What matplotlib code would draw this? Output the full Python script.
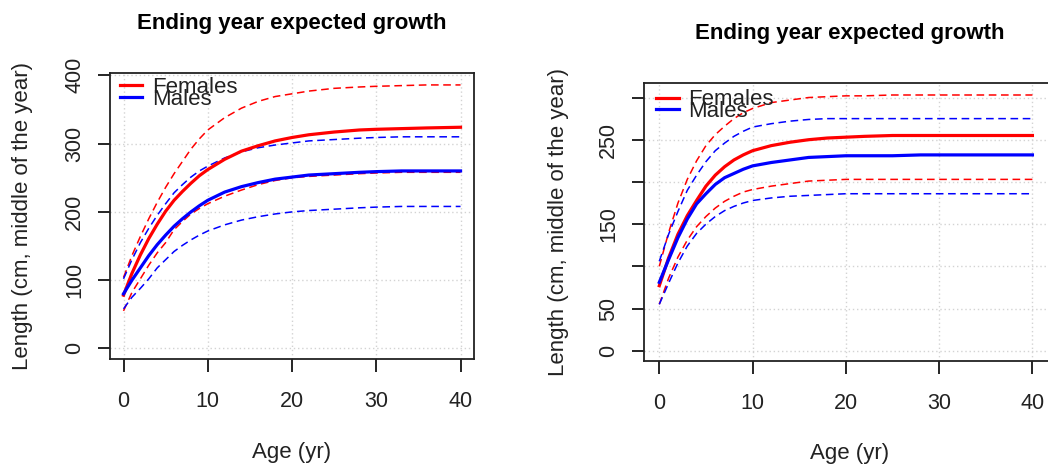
import matplotlib
matplotlib.use("Agg")
import matplotlib.pyplot as plt

plt.rcParams['font.family'] = ['Liberation Sans', 'DejaVu Sans']

ages = [0, 1, 2, 3, 4, 5, 6, 7, 8, 9, 10, 12, 14, 16, 18, 20, 22, 25, 28, 30, 33, 36, 40]

# left panel
fem_mean_a = [78, 110, 137, 161, 182, 201, 217, 230, 242, 253, 262, 277, 289, 297, 304, 309, 313, 317, 320, 321, 322, 323, 324]
fem_hi_a = [104, 136, 164, 190, 214, 236, 256, 274, 292, 307, 320, 338, 352, 362, 369, 373, 377, 381, 383, 384, 385, 386, 386]
fem_lo_a = [55, 82, 102, 122, 140, 155, 174, 186, 197, 205, 212, 223, 232, 240, 246, 250, 252, 254, 256, 257, 258, 258, 258]
mal_mean_a = [80, 100, 118, 136, 152, 166, 179, 190, 200, 209, 217, 229, 237, 243, 248, 251, 254, 256, 258, 259, 260, 260, 260]
mal_hi_a = [102, 130, 155, 176, 195, 212, 228, 240, 251, 260, 267, 279, 288, 294, 298, 301, 304, 306, 308, 309, 310, 310, 310]
mal_lo_a = [58, 75, 88, 102, 118, 130, 142, 151, 159, 166, 172, 181, 188, 193, 197, 200, 202, 204, 206, 207, 208, 208, 208]

# right panel
fem_mean_b = [77, 110, 138, 160, 178, 195, 208, 218, 226, 232, 237, 243, 247, 250, 252, 253, 254, 255, 255, 255, 255, 255, 255]
fem_hi_b = [100, 140, 175, 203, 225, 243, 256, 266, 275, 282, 287, 294, 297, 300, 301, 302, 302, 303, 303, 303, 303, 303, 303]
fem_lo_b = [55, 86, 111, 131, 147, 159, 169, 177, 183, 188, 191, 195, 198, 201, 202, 203, 203, 203, 203, 203, 203, 203, 203]
mal_mean_b = [81, 108, 134, 156, 174, 186, 197, 205, 210, 215, 219, 223, 226, 229, 230, 231, 231, 231, 232, 232, 232, 232, 232]
mal_hi_b = [106, 138, 165, 190, 208, 224, 237, 246, 254, 260, 265, 269, 272, 274, 275, 275, 275, 275, 275, 275, 275, 275, 275]
mal_lo_b = [55, 80, 104, 124, 139, 150, 159, 166, 171, 175, 178, 181, 183, 184, 185, 186, 186, 186, 186, 186, 186, 186, 186]

x_ticks = [0, 10, 20, 30, 40]
y_ticks_a = [0, 100, 200, 300, 400]
y_labels_a = ['0', '100', '200', '300', '400']
y_ticks_b = [0, 50, 100, 150, 200, 250, 300]
y_labels_b = ['0', '50', '', '150', '', '250', '']

title = 'Ending year expected growth'
ylab = 'Length (cm, middle of the year)'
xlab = 'Age (yr)'

fig = plt.figure(figsize=(10.48, 4.73), dpi=100)
ax1 = fig.add_axes([0.105, 0.241, 0.3473, 0.6047])
# right panel runs off the right edge of the picture, as in the original
ax2 = fig.add_axes([0.6145, 0.2368, 0.392, 0.5877])


def draw(ax, fm, fh, fl, mm, mh, ml, yt, yl, xlim, ylim, ylab_x, xlab_y, leg_anchor):
    ax.set_xlim(*xlim)
    ax.set_ylim(*ylim)
    for v in x_ticks:
        ax.axvline(v, color='#d3d3d3', lw=1, ls=(0, (1, 2)), zorder=0)
    for v in yt:
        ax.axhline(v, color='#d3d3d3', lw=1, ls=(0, (1, 2)), zorder=0)
    dash = (0, (5, 3))
    ax.plot(ages, fh, color='red', lw=1.1, ls=dash)
    ax.plot(ages, fl, color='red', lw=1.1, ls=dash)
    ax.plot(ages, mh, color='blue', lw=1.1, ls=dash)
    ax.plot(ages, ml, color='blue', lw=1.1, ls=dash)
    lf, = ax.plot(ages, fm, color='red', lw=2.3)
    lm, = ax.plot(ages, mm, color='blue', lw=2.3)

    ax.set_xticks(x_ticks)
    ax.set_yticks(yt)
    ax.set_yticklabels(yl, rotation=90, va='center')
    ax.tick_params(axis='both', direction='out', length=9, width=1.2,
                   labelsize=15.5, colors='black', labelcolor='#222222')
    ax.tick_params(axis='x', pad=14)
    ax.tick_params(axis='y', pad=9)
    for s in ax.spines.values():
        s.set_linewidth(1.3)
        s.set_color('#222222')

    ax.set_title(title, fontsize=16, fontweight='bold', pad=32)
    ax.set_ylabel(ylab, fontsize=16, color='#222222')
    ax.yaxis.set_label_coords(ylab_x, 0.5)
    ax.set_xlabel(xlab, fontsize=16, color='#222222')
    ax.xaxis.set_label_coords(0.5, xlab_y)

    ax.legend([lf, lm], ['Females', 'Males'], loc='upper left',
              bbox_to_anchor=leg_anchor, frameon=False, fontsize=16,
              labelspacing=-0.42, handlelength=1.0, handletextpad=0.45,
              borderpad=0, borderaxespad=0, labelcolor='#222222')


draw(ax1, fem_mean_a, fem_hi_a, fem_lo_a, mal_mean_a, mal_hi_a, mal_lo_a,
     y_ticks_a, y_labels_a, (-1.6, 41.6), (-15.5, 403.5), -0.2115, -0.29, (0.027, 0.985))
draw(ax2, fem_mean_b, fem_hi_b, fem_lo_b, mal_mean_b, mal_hi_b, mal_lo_b,
     y_ticks_b, y_labels_b, (-1.64, 42.4), (-12.2, 317.2), -0.183, -0.295, (0.03, 0.977))

fig.savefig('out.png', dpi=100)
